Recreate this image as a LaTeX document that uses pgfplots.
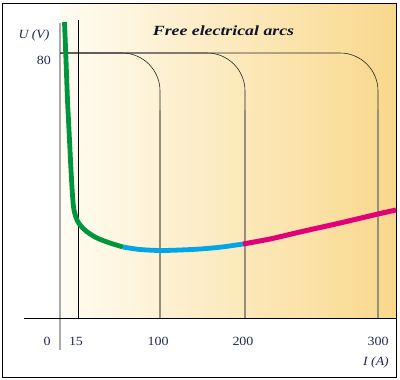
\documentclass[border=0pt]{standalone}
\usepackage{fontspec}
\setmainfont{Liberation Serif}
\usepackage{graphicx}
\usepackage{pgfplots}
\pgfplotsset{compat=1.18}
\definecolor{arcgreen}{RGB}{0,150,64}
\definecolor{arcblue}{RGB}{0,166,232}
\definecolor{arcmag}{RGB}{226,0,122}
\definecolor{txt}{RGB}{30,40,80}
\definecolor{ttl}{RGB}{15,20,40}
\definecolor{bgL}{RGB}{255,252,242}
\definecolor{bgM}{RGB}{252,236,200}
\definecolor{bgR}{RGB}{249,216,140}
\definecolor{vgray}{RGB}{150,142,125}
\definecolor{zgray}{RGB}{170,170,170}
\newcommand{\wide}[2]{\scalebox{#1}[1]{#2}}
\begin{document}
\begin{tikzpicture}
\begin{axis}[x=1pt, y=1pt, y dir=reverse, xmin=0, xmax=400, ymin=0, ymax=380,
  hide axis, clip=false, scale only axis]
% bounding box
\path (axis cs:0,0) rectangle (axis cs:400,380);
% background gradient
\fill[left color=bgL, middle color=bgM, right color=bgR] (axis cs:60,3.5) rectangle (axis cs:396,318);
% frame
\draw[black, line width=0.9pt] (axis cs:2.5,3.5) rectangle (axis cs:396,377);
% I = 0 line
\addplot[zgray, line width=1.8pt] coordinates {(60,23) (60,350)};
% horizontal axis
\addplot[black, line width=0.8pt] coordinates {(24,318) (396,318)};
% I = 15 line
\addplot[black, line width=0.8pt] coordinates {(78,20) (78,318)};
% characteristics (80 V, rounded down to the current)
\addplot[black!85, line width=0.6pt, rounded corners=38pt] coordinates {(60,53) (160,53) (160,318)};
\addplot[black!85, line width=0.6pt, rounded corners=38pt] coordinates {(60,53) (245,53) (245,318)};
\addplot[black!85, line width=0.6pt, rounded corners=38pt] coordinates {(60,53) (378,53) (378,318)};
\addplot[vgray, line width=1.3pt] coordinates {(160,110) (160,318)};
\addplot[vgray, line width=1.3pt] coordinates {(245,110) (245,318)};
\addplot[vgray, line width=1.3pt] coordinates {(378,110) (378,318)};
% arc characteristic
\addplot[arcgreen, line width=4.8pt, smooth, tension=0.5] coordinates {
 (64.5,22) (66,60) (67.5,100) (69,130) (71,170) (72.5,195) (74,210) (78,222) (86,231) (97,238) (110,243) (123,247)};
\addplot[arcblue, line width=4.8pt, smooth] coordinates {
 (123,247) (140,249.5) (160,250.5) (180,250) (200,249) (222,247) (243,244)};
\addplot[arcmag, line width=5pt, smooth] coordinates {
 (243,244) (270,239) (300,232) (340,223) (378,214) (396,210)};
% texts
\node[ttl, font=\fontsize{14}{16}\selectfont\bfseries\itshape] at (axis cs:223.5,31) {\wide{1.27}{Free electrical arcs}};
\node[txt, font=\fontsize{12.5}{14}\selectfont\itshape] at (axis cs:34,35) {\wide{1.1}{U (V)}};
\node[txt, font=\fontsize{12.5}{14}\selectfont] at (axis cs:44,60) {\wide{1.12}{80}};
\node[txt, font=\fontsize{12.5}{14}\selectfont] at (axis cs:47,341) {\wide{1.12}{0}};
\node[txt, font=\fontsize{12.5}{14}\selectfont] at (axis cs:76,341) {\wide{1.12}{15}};
\node[txt, font=\fontsize{12.5}{14}\selectfont] at (axis cs:158,341) {\wide{1.12}{100}};
\node[txt, font=\fontsize{12.5}{14}\selectfont] at (axis cs:243,341) {\wide{1.12}{200}};
\node[txt, font=\fontsize{12.5}{14}\selectfont] at (axis cs:378,341) {\wide{1.12}{300}};
\node[txt, font=\fontsize{12.5}{14}\selectfont\itshape] at (axis cs:376,362) {\wide{1.1}{I (A)}};
\end{axis}
\end{tikzpicture}
\end{document}
